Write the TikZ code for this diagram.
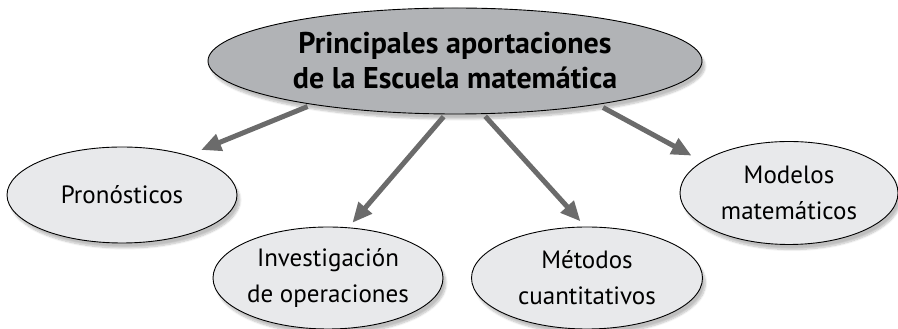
\documentclass[tikz,border=0pt]{standalone}
\usepackage{fontspec}
\setmainfont{PT Sans}
\usetikzlibrary{shapes.geometric,arrows.meta,shadows.blur}
\definecolor{mainfill}{HTML}{B1B3B6}
\definecolor{subfill}{HTML}{E8E9EB}
\definecolor{arrowgray}{HTML}{6B6B6B}
\tikzset{
  bubble/.style={ellipse, draw=black, line width=0.9pt, inner sep=0pt, align=center,
    blur shadow={shadow xshift=3pt, shadow yshift=-5pt, shadow blur steps=8, shadow opacity=25}},
  mainbubble/.style={bubble, fill=mainfill, font=\fontsize{30}{35}\selectfont\bfseries,
    minimum width=494pt, minimum height=106pt},
  subbubble/.style={bubble, fill=subfill, font=\fontsize{25}{36}\selectfont},
  link/.style={draw=arrowgray, line width=5pt, -{Triangle[width=17pt,length=20pt]}}
}
\begin{document}
\begin{tikzpicture}[x=1pt,y=1pt]
\useasboundingbox (0,0) rectangle (898,329);
\node[mainbubble] (main) at (455,268) {Principales aportaciones\\de la Escuela matemática};
\node[subbubble, minimum width=230pt, minimum height=96pt] (pron) at (122,134) {Pronósticos};
\node[subbubble, minimum width=230pt, minimum height=102pt] (inv) at (328,51) {Investigación\\de operaciones};
\node[subbubble, minimum width=231pt, minimum height=102pt] (met) at (587,51) {Métodos\\cuantitativos};
\node[subbubble, minimum width=218pt, minimum height=103pt] (mod) at (789,136) {Modelos\\matemáticos};
\draw[link, shorten <=5pt, shorten >=14pt] (main.197) -- (pron.31);
\draw[link, shorten <=3pt, shorten >=6pt] (main.260) -- (inv.68.6);
\draw[link, shorten <=3pt, shorten >=7pt] (main.298) -- (met.92);
\draw[link, shorten <=6pt, shorten >=12pt] (main.343.4) -- (mod.160.5);
\end{tikzpicture}
\end{document}
